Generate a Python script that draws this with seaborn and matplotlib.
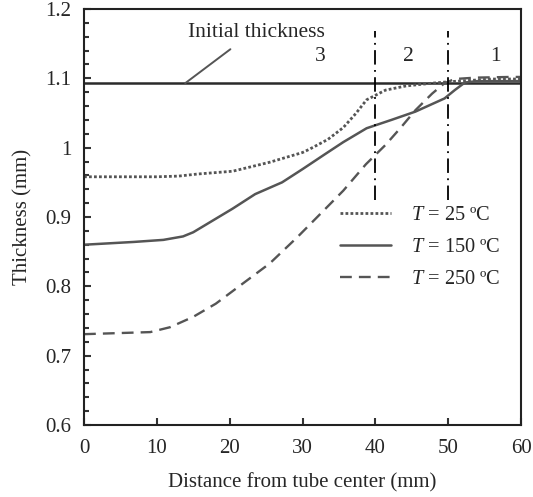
import numpy as np
import pandas as pd
import seaborn as sns
import matplotlib
matplotlib.use("Agg")
import matplotlib.pyplot as plt
from matplotlib.ticker import MultipleLocator, FuncFormatter

# ---- data ----
x_25 = [0, 5, 10, 13, 15.6, 20.4, 25.5, 30, 31, 33.5, 35.6, 37.3, 38.8, 41.4, 44.2, 47.8, 50, 53, 56, 60]
y_25 = [0.958, 0.958, 0.958, 0.959, 0.962, 0.966, 0.979, 0.993, 0.998, 1.012, 1.029, 1.049, 1.069, 1.083, 1.089, 1.093, 1.095, 1.097, 1.099, 1.099]

x_150 = [0, 6.8, 10.9, 13.6, 15, 17.7, 20.4, 23.5, 27.2, 30, 33, 35.6, 38.8, 42.2, 45.5, 49.5, 50.9, 52.3, 54, 60]
y_150 = [0.860, 0.864, 0.867, 0.872, 0.878, 0.895, 0.912, 0.933, 0.950, 0.969, 0.990, 1.008, 1.028, 1.040, 1.052, 1.071, 1.083, 1.094, 1.096, 1.096]

x_250 = [0, 9.1, 11.8, 15, 18.1, 21.8, 25.5, 29.3, 32.5, 35.6, 38.7, 41.4, 43.5, 45.5, 47.8, 49.5, 50.9, 53.7, 58.6, 60]
y_250 = [0.731, 0.734, 0.741, 0.756, 0.775, 0.804, 0.833, 0.871, 0.905, 0.938, 0.976, 1.004, 1.029, 1.054, 1.078, 1.093, 1.099, 1.101, 1.102, 1.102]

series_labels = [r"$T$ = 25 ºC", r"$T$ = 150 ºC", r"$T$ = 250 ºC"]
initial_thickness = 1.093
zone_bounds = [40, 50]
zone_labels = ["3", "2", "1"]
zone_label_x = [32.4, 44.5, 56.5]
x_ticks = [0, 10, 20, 30, 40, 50, 60]
y_ticks = [0.6, 0.7, 0.8, 0.9, 1.0, 1.1, 1.2]

frames = []
for xs, ys, lab in zip([x_25, x_150, x_250], [y_25, y_150, y_250], series_labels):
    frames.append(pd.DataFrame({"x": xs, "y": ys, "series": lab}))
df = pd.concat(frames, ignore_index=True)

sns.set_theme(style="ticks")
plt.rcParams["font.family"] = ["Liberation Serif", "DejaVu Serif"]
plt.rcParams["mathtext.fontset"] = "custom"
plt.rcParams["mathtext.rm"] = "Liberation Serif"
plt.rcParams["mathtext.it"] = "Liberation Serif:italic"

W, H = 533, 497
L, R, T, B = 84, 521, 9, 425
fig = plt.figure(figsize=(W / 100, H / 100), dpi=100)
ax = fig.add_axes([L / W, 1 - B / H, (R - L) / W, (B - T) / H])

gray = "#555555"
styles = [(0, (1.0, 0.8)), "-", (0, (5, 3))]
widths = [2.0, 1.8, 1.7]
for lab, ls, lw in zip(series_labels, styles, widths):
    sub = df[df["series"] == lab]
    sns.lineplot(data=sub, x="x", y="y", ax=ax, color=gray, linestyle=ls,
                 linewidth=lw, label=lab, sort=False, estimator=None)

# initial thickness line
ax.axhline(initial_thickness, color="#2a2a2a", linewidth=1.8, zorder=1)
ax.text(14.3, 1.166, "Initial thickness", fontsize=15.5, ha="left", va="center")
ax.plot([13.9, 20.1], [initial_thickness, 1.142], color=gray, linewidth=1.4)

# zone boundaries
for xb in zone_bounds:
    ax.plot([xb, xb], [0.924, 1.168], color="black", linewidth=1.3,
            linestyle=(0, (8, 3, 1, 3)))
for zx, zl in zip(zone_label_x, zone_labels):
    ax.text(zx, 1.132, zl, fontsize=15.5, ha="center", va="center")

ax.set_xlim(0, 60)
ax.set_ylim(0.6, 1.2)
ax.set_xticks(x_ticks)
ax.set_yticks(y_ticks)
ax.yaxis.set_minor_locator(MultipleLocator(0.02))
ax.yaxis.set_major_formatter(FuncFormatter(lambda v, p: "%g" % round(v, 2)))
ax.tick_params(axis="both", which="major", direction="in", length=5, width=1.5,
               labelsize=15, color="#333333")
ax.tick_params(axis="y", which="major", pad=9)
ax.tick_params(axis="x", which="major", pad=10)
ax.tick_params(axis="y", which="minor", direction="in", length=3.5, width=1.5,
               color="#333333")
for sp in ax.spines.values():
    sp.set_visible(True)
    sp.set_linewidth(1.5)
    sp.set_color("#222222")

ax.set_xlabel("Distance from tube center (mm)", fontsize=15, labelpad=11)
ax.set_ylabel("Thickness (mm)", fontsize=15, labelpad=9)

leg = ax.legend(loc="upper left", bbox_to_anchor=(0.585, 0.527), frameon=False,
                fontsize=14.7, handlelength=2.5, handletextpad=1.0,
                labelspacing=0.62, borderaxespad=0, borderpad=0)

fig.savefig("out.png", dpi=100)
